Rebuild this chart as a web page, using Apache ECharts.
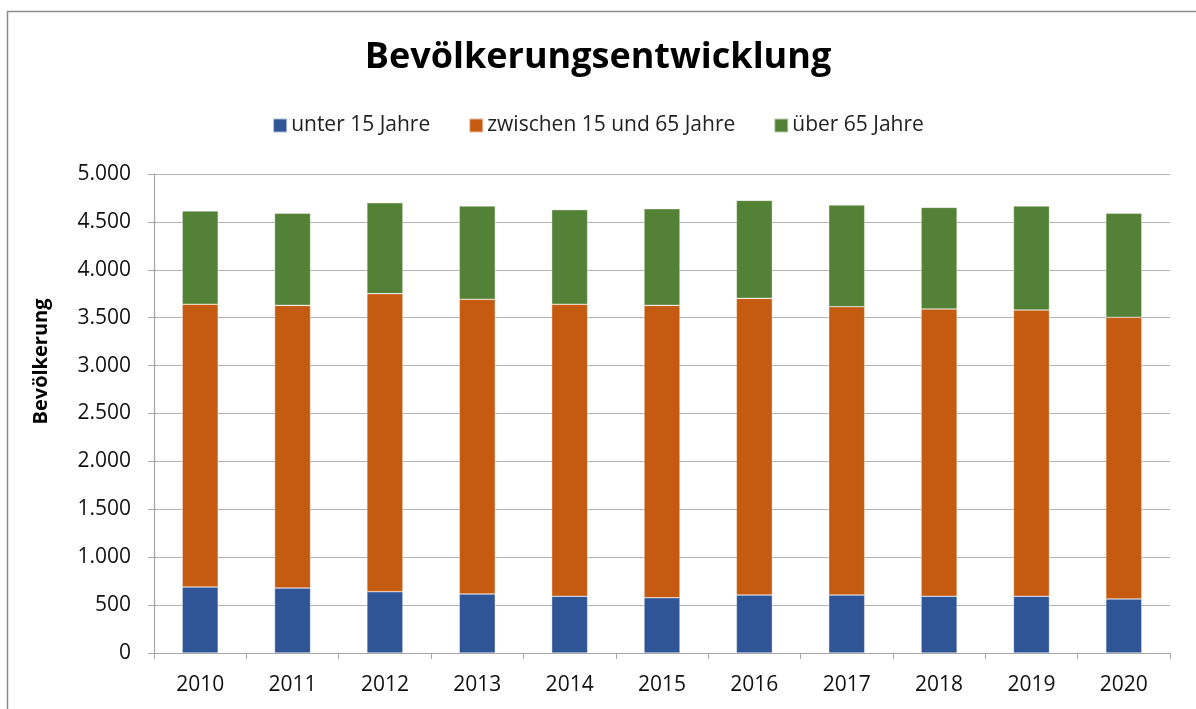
<!DOCTYPE html>
<html>
<head>
<meta charset="utf-8">
<script src="https://cdn.jsdelivr.net/npm/echarts@6/dist/echarts.min.js"></script>
<style>
  html, body { margin: 0; padding: 0; background: #fff; }
  #chart { width: 1196px; height: 709px; }
</style>
</head>
<body>
<div id="chart"></div>
<script>
// Werte
const years = ['2010', '2011', '2012', '2013', '2014', '2015', '2016', '2017', '2018', '2019', '2020']
const unter15 = [689, 678, 640, 616, 592, 577, 605, 605, 592, 592, 564]
const zwischen15und65 = [2951, 2951, 3111, 3076, 3048, 3052, 3097, 3010, 2999, 2988, 2940]
const ueber65 = [974, 961, 949, 974, 988, 1009, 1023, 1061, 1061, 1086, 1086]
const seriesNames = ['unter 15 Jahre', 'zwischen 15 und 65 Jahre', 'über 65 Jahre']
const colors = ['#2F5597', '#C55A11', '#538135']

const fmt = v => v.toLocaleString('de-DE')

const chart = echarts.init(document.getElementById('chart'))

function barSeries(name, data, color) {
  return {
    name: name,
    type: 'bar',
    stack: 'total',
    barWidth: '39%',
    data: data,
    itemStyle: { color: color, borderColor: 'rgba(255,255,255,0.6)', borderWidth: 0.6 }
  }
}

chart.setOption({
  animation: false,
  textStyle: { fontFamily: 'Open Sans, sans-serif' },
  graphic: [{
    type: 'rect',
    shape: { x: 7.5, y: 11.5, width: 1200, height: 720 },
    style: { fill: 'none', stroke: '#8c8c8c', lineWidth: 1.5 },
    silent: true
  }],
  title: {
    text: 'Bevölkerungsentwicklung',
    left: 'center',
    top: 35,
    textStyle: { fontSize: 36, fontWeight: 'bold', color: '#000', fontFamily: 'Open Sans, sans-serif' }
  },
  legend: {
    top: 110,
    left: 'center',
    itemWidth: 14,
    itemHeight: 14,
    itemGap: 38,
    icon: 'rect',
    data: seriesNames,
    textStyle: { fontSize: 21, color: '#222', padding: [0, 0, 0, -1] }
  },
  grid: { left: 154, right: 26, top: 174, bottom: 56, containLabel: false },
  xAxis: {
    type: 'category',
    data: years,
    axisLine: { lineStyle: { color: '#a6a6a6', width: 1.2 } },
    axisTick: { show: true, length: 6, lineStyle: { color: '#a6a6a6' } },
    axisLabel: { fontSize: 21, color: '#111', margin: 22 }
  },
  yAxis: {
    type: 'value',
    min: 0,
    max: 5000,
    interval: 500,
    name: 'Bevölkerung',
    nameLocation: 'middle',
    nameGap: 103,
    nameRotate: 90,
    nameTextStyle: { fontSize: 20, fontWeight: 'bold', color: '#000', padding: [0, 0, 0, 104] },
    axisLine: { show: true, lineStyle: { color: '#a6a6a6', width: 1.2 } },
    axisTick: { show: true, length: 6, lineStyle: { color: '#a6a6a6' } },
    splitLine: { lineStyle: { color: '#b4b4b4', width: 1.2 } },
    axisLabel: { fontSize: 21, color: '#111', margin: 23, formatter: fmt }
  },
  series: [
    barSeries(seriesNames[0], unter15, colors[0]),
    barSeries(seriesNames[1], zwischen15und65, colors[1]),
    barSeries(seriesNames[2], ueber65, colors[2])
  ]
})
</script>
</body>
</html>
